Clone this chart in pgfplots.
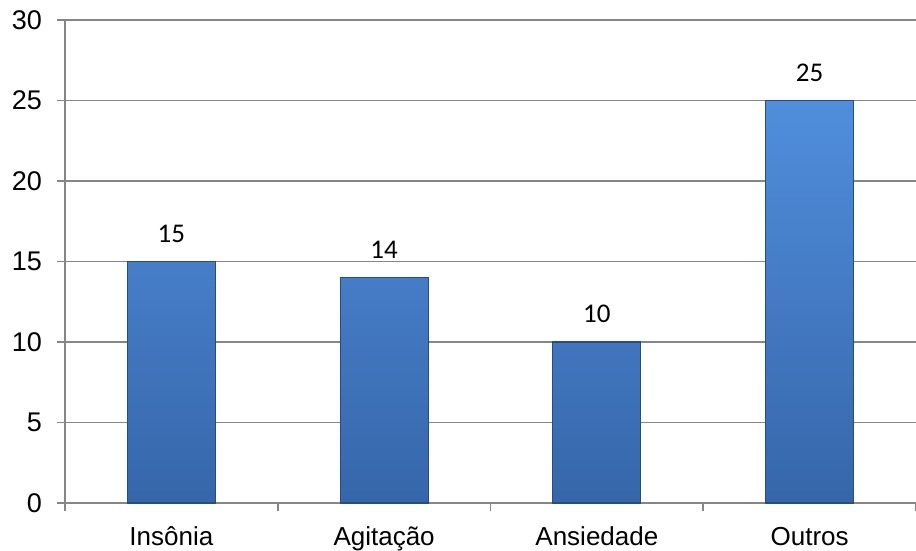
\documentclass[border=0pt]{standalone}
\usepackage{pgfplots}
\pgfplotsset{compat=1.18}
\usepackage{fontspec}
\setmainfont{Liberation Sans}
\newfontfamily\calibri{Carlito}
\definecolor{gridc}{RGB}{134,134,134}
\definecolor{bartop}{RGB}{80,142,220}
\definecolor{barbot}{RGB}{54,102,170}
\definecolor{baredge}{RGB}{40,76,126}
\begin{document}
\begin{tikzpicture}
\begin{axis}[
  scale only axis, width=425.5pt, height=241.5pt,
  xmin=-0.5, xmax=3.5, ymin=0, ymax=30,
  axis lines*=left,
  axis line style={draw=gridc, line width=0.75pt},
  ytick={0,5,...,30},
  tick align=outside, major tick length=4pt,
  tick style={draw=gridc, line width=0.75pt},
  xtick={-0.5,0.5,1.5,2.5,3.5}, xticklabels={},
  extra x ticks={0,1,2,3},
  extra x tick labels={Insônia,Agitação,Ansiedade,Outros},
  extra x tick style={major tick length=0pt,
    tick label style={anchor=base, yshift=-21.5pt, font=\fontsize{13}{16}\selectfont}},
  yticklabel style={xshift=-4pt},
  ymajorgrids, grid style={draw=gridc, line width=0.75pt},
  ticklabel style={font=\fontsize{13.5}{16}\selectfont},
  /pgf/number format/assume math mode=true,
  ybar, bar width=44pt,
  nodes near coords,
  nodes near coords style={font=\calibri\fontsize{13.5}{16}\selectfont, yshift=6pt},
  clip=false,
]
\addplot[top color=bartop, bottom color=barbot, draw=baredge, line width=0.6pt]
  coordinates {(0,15) (1,14) (2,10) (3,25)};
\end{axis}
\pgfresetboundingbox
\path (current axis.south west) ++(-32.5pt,-24pt) rectangle ++(458pt,275.5pt);
\end{tikzpicture}
\end{document}
